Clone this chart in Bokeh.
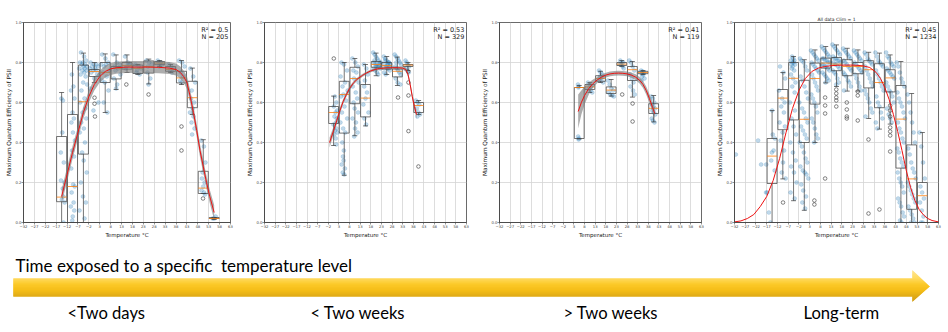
from bokeh.plotting import figure
from bokeh.layouts import row, column
from bokeh.models import Range1d, FixedTicker, Label, NumeralTickFormatter
from bokeh.embed import file_html
from bokeh.resources import INLINE
from bokeh.core.properties import value

# ---------------- data ----------------
X_TICKS = [-32, -27, -22, -17, -12, -7, -2, 3, 8, 13, 18, 23, 28, 33, 38, 43, 48, 53, 58, 63]
Y_TICKS = [0.0, 0.2, 0.4, 0.6, 0.8, 1.0]
ALL_BINS = [-14.5, -9.5, -4.5, 0.5, 5.5, 10.5, 15.5, 20.5, 25.5, 30.5, 35.5, 40.5, 45.5, 50.5, 55.5]

# Panel 1 : < two days
P1_BINS = ALL_BINS
P1_Q1 = [0.104, 0.0, 0.342, 0.73, 0.70, 0.718, 0.767, 0.745, 0.747, 0.789, 0.756, 0.698, 0.574, 0.145, 0.02]
P1_MED = [0.127, 0.18, 0.604, 0.755, 0.75, 0.77, 0.785, 0.77, 0.78, 0.797, 0.765, 0.723, 0.624, 0.172, 0.02]
P1_Q3 = [0.43, 0.54, 0.787, 0.765, 0.80, 0.78, 0.80, 0.787, 0.808, 0.805, 0.78, 0.756, 0.706, 0.256, 0.025]
P1_LO = [0.0, 0.0, 0.0, 0.70, 0.55, 0.665, 0.75, 0.74, 0.693, 0.78, 0.75, 0.69, 0.54, 0.145, 0.015]
P1_HI = [0.65, 0.80, 0.847, 0.80, 0.843, 0.838, 0.838, 0.79, 0.817, 0.81, 0.79, 0.81, 0.772, 0.414, 0.025]
P1_OUT_T = [0.6, 0.6, 0.8, 15.2, 25.4, 40.5, 40.5, 50.4]
P1_OUT_V = [0.624, 0.594, 0.53, 0.69, 0.64, 0.48, 0.36, 0.12]
P1_PT_T = [
    [-14.6, -13.9, -14.2, -13.5, -14.8, -13.2, -14.0, -13.7, -14.4, -13.1, -14.9, -13.6],
    [-9.8, -9.1, -10.2, -8.6, -9.5, -8.9, -10.0, -9.3, -8.4, -9.7, -8.8, -10.1, -9.2, -8.5, -9.9, -9.0, -10.3, -8.7, -9.4, -9.6],
    [-5.6, -4.2, -3.3, -6.1, -4.8, -3.7, -5.2, -2.9, -4.5, -6.4, -3.9, -5.0, -3.1, -4.1, -5.8, -3.5, -4.6, -2.8, -5.4, -4.0,
     -6.0, -3.6, -4.9, -3.2, -5.5, -4.3, -6.2, -3.8, -5.1, -4.4, -3.0, -5.7, -4.7, -3.4, -6.3, -4.0],
    [-1.2, 0.3, 1.5, -0.5, 2.1, 0.9, -1.6, 0.0, 1.2, -0.9, 1.8, 0.5, -1.4, 2.4, 0.1],
    [4.1, 5.6, 6.9, 3.6, 5.0, 7.4, 4.5, 6.2, 3.9, 5.3, 7.0, 4.8, 6.5, 5.8],
    [9.2, 10.8, 12.1, 9.8, 11.4, 10.2, 12.5, 9.5, 11.0, 10.5],
    [14.6, 15.9, 16.8, 15.2, 14.9, 16.3],
    [19.4, 20.8, 21.9, 20.1, 19.8, 21.3],
    [24.4, 25.7, 26.8, 25.1, 24.9, 26.2, 25.4],
    [29.6, 30.9, 31.7, 30.3, 29.9],
    [34.6, 35.8, 36.7, 35.2, 36.1],
    [39.4, 40.8, 41.9, 40.2, 41.3, 39.9, 40.5],
    [44.6, 45.9, 46.8, 45.2, 44.9, 46.3, 45.6, 44.4, 46.0, 45.1, 46.5, 45.4],
    [49.6, 50.8, 51.5, 50.2, 49.9, 51.1, 50.5, 49.7, 50.9, 51.3],
    [54.8, 55.6, 56.2],
]
P1_PT_V = [
    [0.62, 0.61, 0.45, 0.30, 0.21, 0.20, 0.17, 0.13, 0.115, 0.10, 0.35, 0.0],
    [0.74, 0.68, 0.66, 0.62, 0.55, 0.52, 0.50, 0.45, 0.41, 0.36, 0.33, 0.27, 0.19, 0.18, 0.15, 0.10, 0.08, 0.06, 0.03, 0.01],
    [0.85, 0.83, 0.81, 0.80, 0.80, 0.79, 0.79, 0.78, 0.78, 0.77, 0.77, 0.76, 0.76, 0.75, 0.74, 0.73, 0.70, 0.69, 0.66, 0.62,
     0.60, 0.57, 0.55, 0.52, 0.50, 0.47, 0.45, 0.40, 0.35, 0.31, 0.25, 0.20, 0.13, 0.10, 0.06, 0.02],
    [0.80, 0.79, 0.79, 0.78, 0.78, 0.77, 0.77, 0.76, 0.76, 0.75, 0.74, 0.72, 0.67, 0.60, 0.56],
    [0.84, 0.82, 0.80, 0.79, 0.78, 0.76, 0.75, 0.73, 0.71, 0.70, 0.66, 0.60, 0.55, 0.79],
    [0.84, 0.80, 0.79, 0.78, 0.77, 0.76, 0.74, 0.72, 0.69, 0.67],
    [0.83, 0.80, 0.79, 0.78, 0.77, 0.79],
    [0.79, 0.78, 0.77, 0.76, 0.75, 0.74],
    [0.81, 0.80, 0.79, 0.78, 0.75, 0.72, 0.69],
    [0.81, 0.80, 0.79, 0.78, 0.80],
    [0.79, 0.78, 0.77, 0.76, 0.75],
    [0.81, 0.80, 0.78, 0.75, 0.73, 0.71, 0.70],
    [0.77, 0.73, 0.70, 0.66, 0.62, 0.60, 0.57, 0.55, 0.53, 0.50, 0.47, 0.44],
    [0.41, 0.38, 0.30, 0.25, 0.22, 0.20, 0.18, 0.16, 0.15, 0.14],
    [0.02, 0.02, 0.03],
]
P1_FIT_T = [-14.5, -12, -9.5, -7, -4.5, -2, 0.5, 3, 5.5, 8, 10.5, 15, 20, 25, 30, 35, 38, 40, 41.5, 43, 44.5, 46, 47.5, 49, 50.5, 52, 53.5, 55.5]
P1_FIT_V = [0.13, 0.24, 0.35, 0.45, 0.55, 0.63, 0.69, 0.73, 0.755, 0.768, 0.774, 0.777, 0.777, 0.777, 0.776, 0.772, 0.765, 0.75, 0.73, 0.70, 0.63, 0.55, 0.46, 0.36, 0.28, 0.20, 0.13, 0.05]
P1_FIT_LO = [0.095, 0.205, 0.318, 0.42, 0.52, 0.60, 0.66, 0.70, 0.725, 0.738, 0.744, 0.747, 0.747, 0.747, 0.746, 0.742, 0.735, 0.72, 0.70, 0.668, 0.598, 0.518, 0.428, 0.328, 0.248, 0.168, 0.096, 0.012]
P1_FIT_HI = [0.165, 0.275, 0.382, 0.48, 0.58, 0.66, 0.72, 0.76, 0.785, 0.798, 0.804, 0.807, 0.807, 0.807, 0.806, 0.802, 0.795, 0.78, 0.76, 0.732, 0.662, 0.582, 0.492, 0.392, 0.312, 0.232, 0.164, 0.088]

# Panel 2 : < two weeks
P2_BINS = [0.5, 5.5, 10.5, 15.5, 20.5, 25.5, 30.5, 35.5, 40.5]
P2_Q1 = [0.495, 0.447, 0.594, 0.528, 0.776, 0.767, 0.728, 0.78, 0.55]
P2_MED = [0.55, 0.64, 0.72, 0.622, 0.79, 0.785, 0.756, 0.787, 0.585]
P2_Q3 = [0.58, 0.706, 0.776, 0.69, 0.805, 0.80, 0.767, 0.79, 0.60]
P2_LO = [0.385, 0.236, 0.434, 0.483, 0.734, 0.74, 0.685, 0.76, 0.54]
P2_HI = [0.632, 0.80, 0.82, 0.79, 0.847, 0.83, 0.827, 0.80, 0.61]
P2_OUT_T = [0.6, 30.8, 35.7, 35.7, 35.7, 35.6, 40.4]
P2_OUT_V = [0.82, 0.625, 0.70, 0.635, 0.457, 0.755, 0.28]
P2_PT_T = [
    [1.1, 1.8, 0.6, 2.2, 1.4, 0.9, 2.0, 1.6, 0.4, 1.9, 1.2, 2.3, 0.8, 1.5, 1.7],
    [4.2, 5.4, 6.8, 3.8, 5.9, 4.7, 7.1, 5.1, 4.0, 6.3, 5.6, 4.4, 6.9, 3.7, 5.0, 6.0, 4.6, 5.3, 4.9, 5.2, 4.3, 5.8, 4.8, 5.5],
    [9.3, 10.7, 11.9, 9.8, 11.2, 10.1, 12.3, 9.5, 10.9, 11.6, 9.9, 10.4, 12.0, 9.4, 11.0, 10.6, 11.8, 10.2],
    [14.7, 15.9, 16.6, 15.2, 14.9, 16.2, 15.5, 14.5, 16.9, 15.0, 15.8],
    [19.1, 19.8, 20.4, 21.0, 21.6, 22.2, 19.5, 20.1, 20.7, 21.3, 21.9, 22.5, 19.3, 20.0, 20.9, 21.5, 22.0, 22.7, 19.7, 20.5],
    [24.1, 24.8, 25.4, 26.0, 26.6, 27.2, 24.5, 25.1, 25.7, 26.3, 26.9, 24.3, 25.0, 25.9, 26.5, 27.0, 24.7, 25.5],
    [29.2, 29.9, 30.5, 31.1, 31.7, 32.2, 29.5, 30.2, 30.8, 31.4, 32.0, 29.7, 30.6, 31.9, 30.0],
    [34.3, 34.9, 35.4, 36.0, 34.6, 35.2, 35.8],
    [39.2, 40.0, 40.8, 39.6, 40.4, 41.1, 39.9],
]
P2_PT_V = [
    [0.63, 0.60, 0.58, 0.56, 0.55, 0.53, 0.52, 0.50, 0.49, 0.47, 0.46, 0.45, 0.44, 0.42, 0.39],
    [0.80, 0.79, 0.76, 0.73, 0.70, 0.68, 0.66, 0.64, 0.63, 0.61, 0.58, 0.55, 0.52, 0.50, 0.47, 0.45, 0.40, 0.36, 0.33, 0.31, 0.29, 0.27, 0.25, 0.24],
    [0.82, 0.80, 0.78, 0.76, 0.75, 0.72, 0.70, 0.68, 0.65, 0.62, 0.60, 0.57, 0.55, 0.52, 0.50, 0.47, 0.45, 0.43],
    [0.79, 0.77, 0.74, 0.71, 0.68, 0.65, 0.62, 0.59, 0.55, 0.52, 0.49],
    [0.85, 0.84, 0.83, 0.82, 0.81, 0.80, 0.80, 0.79, 0.79, 0.78, 0.78, 0.77, 0.77, 0.76, 0.75, 0.74, 0.79, 0.80, 0.81, 0.78],
    [0.83, 0.82, 0.81, 0.80, 0.80, 0.79, 0.79, 0.78, 0.78, 0.77, 0.76, 0.75, 0.74, 0.79, 0.80, 0.78, 0.81, 0.77],
    [0.84, 0.83, 0.82, 0.81, 0.80, 0.79, 0.78, 0.77, 0.76, 0.75, 0.74, 0.72, 0.70, 0.69, 0.80],
    [0.81, 0.80, 0.79, 0.78, 0.77, 0.76, 0.75],
    [0.61, 0.60, 0.59, 0.57, 0.55, 0.54, 0.53],
]
P2_FIT_T = [-1.4, 0.5, 2, 3.5, 5, 6.5, 8, 10, 12, 14, 16, 18, 20, 22, 25, 28, 31, 33, 34.5, 35.5, 36.5, 37.5, 38.5, 39.5]
P2_FIT_V = [0.40, 0.46, 0.51, 0.56, 0.605, 0.64, 0.67, 0.70, 0.72, 0.735, 0.748, 0.758, 0.765, 0.77, 0.773, 0.774, 0.774, 0.772, 0.765, 0.74, 0.69, 0.63, 0.58, 0.54]
P2_FIT_LO = [0.375, 0.44, 0.493, 0.545, 0.592, 0.628, 0.66, 0.691, 0.712, 0.728, 0.741, 0.751, 0.758, 0.763, 0.766, 0.767, 0.767, 0.764, 0.755, 0.728, 0.676, 0.614, 0.562, 0.518]
P2_FIT_HI = [0.425, 0.48, 0.527, 0.575, 0.618, 0.652, 0.68, 0.709, 0.728, 0.742, 0.755, 0.765, 0.772, 0.777, 0.780, 0.781, 0.781, 0.780, 0.775, 0.752, 0.704, 0.646, 0.598, 0.562]

# Panel 3 : > two weeks
P3_BINS = [5.5, 10.5, 15.5, 20.5, 25.5, 30.5, 35.5, 40.5]
P3_Q1 = [0.42, 0.665, 0.706, 0.645, 0.785, 0.71, 0.744, 0.545]
P3_MED = [0.675, 0.678, 0.72, 0.662, 0.792, 0.764, 0.75, 0.571]
P3_Q3 = [0.675, 0.69, 0.734, 0.678, 0.80, 0.78, 0.756, 0.594]
P3_LO = [0.418, 0.65, 0.70, 0.632, 0.78, 0.627, 0.74, 0.503]
P3_HI = [0.685, 0.70, 0.756, 0.715, 0.81, 0.805, 0.76, 0.635]
P3_OUT_T = [25.7, 30.6, 30.6]
P3_OUT_V = [0.64, 0.595, 0.505]
P3_PT_T = [
    [4.9, 5.3, 5.1, 5.0, 5.4, 5.2],
    [9.6, 10.4, 11.2, 10.0, 10.8, 11.6],
    [14.8, 15.6, 16.4, 15.2, 16.0, 15.0, 16.7],
    [19.0, 19.8, 20.6, 21.4, 19.4, 20.2, 21.0, 21.8],
    [24.8, 25.5, 26.2, 24.6, 25.2, 25.9, 26.4],
    [29.0, 29.8, 30.6, 31.4, 29.4, 30.2, 31.0, 29.6, 30.8, 31.6],
    [34.6, 35.3, 36.0, 34.9, 35.6, 35.1, 36.2, 34.8],
    [39.4, 40.1, 40.8, 39.7, 40.4, 41.1, 39.9, 40.6, 41.3, 39.6, 40.2, 40.9],
]
P3_PT_V = [
    [0.69, 0.68, 0.675, 0.43, 0.42, 0.415],
    [0.70, 0.69, 0.68, 0.67, 0.66, 0.65],
    [0.76, 0.75, 0.74, 0.73, 0.72, 0.71, 0.70],
    [0.71, 0.69, 0.67, 0.66, 0.65, 0.64, 0.635, 0.63],
    [0.81, 0.80, 0.80, 0.79, 0.79, 0.78, 0.77],
    [0.81, 0.80, 0.78, 0.76, 0.74, 0.72, 0.70, 0.68, 0.66, 0.64],
    [0.76, 0.755, 0.75, 0.745, 0.74, 0.73, 0.72, 0.71],
    [0.63, 0.62, 0.60, 0.59, 0.58, 0.57, 0.56, 0.55, 0.54, 0.52, 0.51, 0.50],
]
P3_FIT_T = [5, 6.5, 8, 10, 12, 14, 16, 18, 20, 22, 24, 26, 28, 30, 32, 34, 35.5, 37, 38.5, 40, 41]
P3_FIT_V = [0.555, 0.60, 0.635, 0.67, 0.695, 0.713, 0.727, 0.737, 0.743, 0.746, 0.747, 0.746, 0.743, 0.737, 0.727, 0.71, 0.69, 0.66, 0.62, 0.575, 0.545]
P3_FIT_LO = [0.47, 0.54, 0.59, 0.64, 0.675, 0.698, 0.714, 0.725, 0.731, 0.734, 0.735, 0.734, 0.731, 0.724, 0.713, 0.694, 0.672, 0.640, 0.598, 0.550, 0.515]
P3_FIT_HI = [0.64, 0.66, 0.68, 0.70, 0.715, 0.728, 0.740, 0.749, 0.755, 0.758, 0.759, 0.758, 0.755, 0.750, 0.741, 0.726, 0.708, 0.680, 0.642, 0.600, 0.575]

# Panel 4 : long-term (all data)
P4_BINS = ALL_BINS
P4_Q1 = [0.195, 0.464, 0.513, 0.40, 0.592, 0.772, 0.759, 0.734, 0.744, 0.673, 0.574, 0.653, 0.272, 0.066, 0.0]
P4_MED = [0.332, 0.622, 0.721, 0.516, 0.72, 0.797, 0.792, 0.78, 0.78, 0.764, 0.70, 0.723, 0.517, 0.218, 0.134]
P4_Q3 = [0.42, 0.665, 0.80, 0.711, 0.797, 0.822, 0.825, 0.814, 0.80, 0.809, 0.794, 0.764, 0.685, 0.388, 0.20]
P4_LO = [0.0, 0.218, 0.109, 0.061, 0.40, 0.698, 0.68, 0.657, 0.657, 0.52, 0.467, 0.492, 0.0, 0.0, 0.0]
P4_HI = [0.56, 0.75, 0.83, 0.814, 0.863, 0.88, 0.888, 0.871, 0.863, 0.851, 0.847, 0.838, 0.805, 0.645, 0.45]
P4_OUT_T = [-9.4, 5.2, 5.2, 10.2, 10.2, 10.2, 10.2, 15.4, 15.4, 15.4, 15.4, 15.4, 20.3, 20.3, 20.3, 20.3,
            25.4, 25.4, 25.4, 30.4, 30.4, 35.5, 40.5, 40.5, 40.5, 40.5, 40.5, 40.5, 40.5]
P4_OUT_V = [0.10, 0.11, 0.09, 0.625, 0.585, 0.545, 0.22, 0.665, 0.645, 0.625, 0.61, 0.58, 0.60, 0.565, 0.53, 0.52,
            0.655, 0.635, 0.51, 0.415, 0.045, 0.065, 0.585, 0.56, 0.53, 0.475, 0.455, 0.435, 0.355]
P4_PT_T = [
    [-31.4, -21.0, -19.6, -17.2, -14.6, -17.3, -16.0, -13.2, -14.2, -13.8, -14.9, -13.3, -15.3, -14.5, -16.8],
    [-10.8, -9.2, -8.4, -11.3, -9.8, -8.7, -10.2, -9.0, -11.0, -8.5, -9.6, -10.5, -8.9, -9.4, -10.0, -8.2],
    [-5.2, -4.6, -5.8, -4.1, -5.0, -4.4, -5.5, -3.8, -4.9, -5.3, -4.2, -5.7, -4.7, -3.6, -5.1, -4.0, -6.2, -3.9, -5.4, -4.5,
     -3.3, -6.0, -4.8, -3.5, -5.6, -4.3, -3.1, -5.9, -4.0],
    [-1.5, -0.8, 0.2, 1.0, 1.8, -1.2, -0.3, 0.6, 1.4, 2.2, -1.8, -0.5, 0.4, 1.2, 2.0, -1.0, -0.1, 0.8, 1.6, -1.6,
     -0.6, 0.3, 1.1, 1.9, -1.3, -0.2, 0.7, 1.5, 2.4, -0.9, 0.0, 1.3, -0.4, 0.9],
    [3.6, 4.3, 5.0, 5.7, 6.4, 7.1, 3.9, 4.6, 5.3, 6.0, 6.7, 7.4, 4.1, 4.8, 5.5, 6.2, 6.9, 3.8, 4.5, 5.2,
     5.9, 6.6, 4.0, 4.7, 5.4, 6.1, 6.8, 5.1],
    [8.6, 9.3, 10.0, 10.7, 11.4, 12.1, 8.9, 9.6, 10.3, 11.0, 11.7, 12.4, 8.7, 9.4, 10.1, 10.8, 11.5, 12.2, 9.0, 9.8,
     10.5, 11.2, 11.9, 10.4],
    [13.6, 14.3, 15.0, 15.7, 16.4, 17.1, 13.9, 14.6, 15.3, 16.0, 16.7, 17.4, 14.1, 14.8, 15.5, 16.2, 16.9, 13.8, 14.5, 15.2,
     15.9, 16.6, 15.4],
    [18.6, 19.3, 20.0, 20.7, 21.4, 22.1, 18.9, 19.6, 20.3, 21.0, 21.7, 22.4, 18.7, 19.4, 20.1, 20.8, 21.5, 22.2, 19.0],
    [23.6, 24.3, 25.0, 25.7, 26.4, 27.1, 23.9, 24.6, 25.3, 26.0, 26.7, 27.4, 24.1, 24.8, 25.5, 26.2, 26.9],
    [28.6, 29.3, 30.0, 30.7, 31.4, 32.1, 28.9, 29.6, 30.3, 31.0, 31.7, 32.4, 28.7, 29.4, 30.1, 30.8, 31.5, 32.2, 29.0],
    [33.6, 34.3, 35.0, 35.7, 36.4, 37.1, 33.9, 34.6, 35.3, 36.0, 36.7, 37.4, 34.1, 34.8, 35.5, 36.2, 36.9, 33.8, 34.5],
    [38.6, 39.3, 40.0, 40.7, 41.4, 42.1, 38.9, 39.6, 40.3, 41.0, 41.7, 42.4, 38.7, 39.4, 40.1, 40.8, 41.5, 42.2, 39.0, 39.8,
     40.5, 41.2],
    [43.6, 44.3, 45.0, 45.7, 46.4, 47.1, 43.9, 44.6, 45.3, 46.0, 46.7, 47.4, 44.1, 44.8, 45.5, 46.2, 46.9, 43.8, 44.5, 45.2,
     45.9, 46.6, 44.0, 44.7, 45.4, 46.1, 46.8, 44.2, 44.9, 45.6, 46.3, 47.0, 45.1, 45.8],
    [48.6, 49.3, 50.0, 50.7, 51.4, 52.1, 48.9, 49.6, 50.3, 51.0, 51.7, 52.4, 48.7, 49.4, 50.1, 50.8, 51.5, 52.2, 49.0, 49.8,
     50.5, 51.2, 50.2, 51.8],
    [54.2, 55.0, 55.8, 56.6, 54.6, 55.4, 56.2, 54.4, 55.2, 56.0, 54.8, 55.6],
]
P4_PT_V = [
    [0.34, 0.41, 0.29, 0.29, 0.35, 0.15, 0.05, 0.42, 0.44, 0.36, 0.31, 0.26, 0.0, 0.56, 0.15],
    [0.78, 0.75, 0.72, 0.66, 0.62, 0.60, 0.58, 0.55, 0.50, 0.48, 0.45, 0.41, 0.36, 0.30, 0.25, 0.22],
    [0.83, 0.82, 0.81, 0.81, 0.80, 0.80, 0.79, 0.79, 0.78, 0.77, 0.76, 0.74, 0.72, 0.70, 0.68, 0.65, 0.60, 0.56, 0.52, 0.48,
     0.44, 0.40, 0.35, 0.31, 0.28, 0.25, 0.20, 0.15, 0.12],
    [0.82, 0.81, 0.80, 0.78, 0.76, 0.73, 0.71, 0.68, 0.65, 0.62, 0.60, 0.57, 0.55, 0.52, 0.50, 0.48, 0.46, 0.44, 0.42, 0.40,
     0.38, 0.35, 0.32, 0.30, 0.28, 0.26, 0.25, 0.24, 0.22, 0.19, 0.16, 0.13, 0.10, 0.07],
    [0.86, 0.85, 0.84, 0.83, 0.82, 0.81, 0.80, 0.79, 0.78, 0.77, 0.76, 0.75, 0.74, 0.72, 0.70, 0.68, 0.66, 0.64, 0.62, 0.60,
     0.58, 0.55, 0.52, 0.50, 0.47, 0.44, 0.42, 0.40],
    [0.88, 0.87, 0.86, 0.85, 0.84, 0.83, 0.82, 0.82, 0.81, 0.81, 0.80, 0.80, 0.79, 0.79, 0.78, 0.78, 0.77, 0.76, 0.75, 0.74,
     0.73, 0.72, 0.71, 0.70],
    [0.89, 0.88, 0.87, 0.86, 0.85, 0.84, 0.83, 0.82, 0.82, 0.81, 0.81, 0.80, 0.80, 0.79, 0.79, 0.78, 0.77, 0.76, 0.75, 0.74,
     0.72, 0.70, 0.69],
    [0.87, 0.86, 0.85, 0.84, 0.83, 0.82, 0.81, 0.80, 0.79, 0.78, 0.77, 0.76, 0.75, 0.74, 0.73, 0.71, 0.70, 0.68, 0.66],
    [0.86, 0.85, 0.84, 0.83, 0.82, 0.81, 0.80, 0.79, 0.78, 0.77, 0.76, 0.75, 0.74, 0.72, 0.70, 0.68, 0.66],
    [0.85, 0.84, 0.82, 0.81, 0.80, 0.79, 0.78, 0.76, 0.74, 0.72, 0.70, 0.68, 0.66, 0.64, 0.62, 0.60, 0.57, 0.55, 0.53],
    [0.85, 0.83, 0.81, 0.80, 0.79, 0.78, 0.76, 0.74, 0.72, 0.70, 0.68, 0.66, 0.63, 0.60, 0.58, 0.55, 0.52, 0.50, 0.47],
    [0.85, 0.83, 0.82, 0.80, 0.79, 0.78, 0.77, 0.76, 0.75, 0.74, 0.73, 0.72, 0.70, 0.68, 0.66, 0.65, 0.63, 0.60, 0.57, 0.54,
     0.52, 0.50],
    [0.80, 0.78, 0.75, 0.72, 0.70, 0.68, 0.65, 0.62, 0.60, 0.58, 0.55, 0.52, 0.50, 0.47, 0.45, 0.42, 0.40, 0.37, 0.35, 0.32,
     0.30, 0.28, 0.25, 0.22, 0.20, 0.18, 0.15, 0.12, 0.10, 0.08, 0.05, 0.03, 0.01, 0.0],
    [0.64, 0.60, 0.55, 0.50, 0.45, 0.40, 0.37, 0.34, 0.30, 0.27, 0.25, 0.22, 0.20, 0.18, 0.16, 0.14, 0.12, 0.10, 0.08, 0.06,
     0.04, 0.02, 0.0, 0.0],
    [0.45, 0.38, 0.30, 0.22, 0.18, 0.15, 0.12, 0.10, 0.06, 0.03, 0.0, 0.0],
]
P4_FIT_T = [-32, -29, -26, -23, -20, -17, -14, -11, -8, -5, -2, 1, 4, 7, 10, 13, 16, 19, 22, 25, 28, 31, 34, 36, 38, 40, 42,
            44, 46, 48, 50, 52, 54, 56, 58, 60, 63]
P4_FIT_V = [0.003, 0.008, 0.02, 0.04, 0.08, 0.13, 0.21, 0.32, 0.45, 0.57, 0.66, 0.72, 0.755, 0.772, 0.78, 0.784, 0.786, 0.787,
            0.787, 0.786, 0.783, 0.775, 0.75, 0.72, 0.675, 0.615, 0.54, 0.455, 0.36, 0.26, 0.175, 0.11, 0.065, 0.038, 0.02,
            0.01, 0.003]

R2_TEXT = ["R\u00b2 = 0.5", "R\u00b2 = 0.53", "R\u00b2 = 0.41", "R\u00b2 = 0.45"]
N_TEXT = ["N = 205", "N = 329", "N = 119", "N = 1234"]
PANEL_TITLES = ["", "", "", "All data Clim = 1"]
X_LABEL = "Temperature \u00b0C"
Y_LABEL = "Maximum Quantum Efficiency of PSII"

HEADER = "Time exposed to a specific\u00a0 temperature level"
STAGES = ["<Two days", "< Two weeks", "> Two weeks", "Long-term"]

# ---------------- styling constants ----------------
FONT = "DejaVu Sans"
BOX_W = 4.6
PT_COLOR = "#1f77b4"
EDGE = "#3a3a3a"


def panel(bins, q1, med, q3, lo, hi, out_t, out_v, pt_t, pt_v, fit_t, fit_v, fit_lo, fit_hi,
          r2, n, title, bl, br):
    p = figure(width=bl + 207 + br, height=240, x_range=Range1d(-32, 63), y_range=Range1d(0, 1),
               output_backend="svg", toolbar_location=None,
               min_border_left=bl, min_border_right=br, min_border_top=22, min_border_bottom=16)
    p.background_fill_color = "white"
    p.border_fill_color = "white"
    p.outline_line_color = "#444444"
    p.outline_line_width = 0.8
    p.xaxis.ticker = FixedTicker(ticks=X_TICKS)
    p.yaxis.ticker = FixedTicker(ticks=Y_TICKS)
    p.yaxis.formatter = NumeralTickFormatter(format="0.0")
    for ax in (p.xaxis[0], p.yaxis[0]):
        ax.axis_line_color = "#444444"
        ax.axis_line_width = 0.8
        ax.major_tick_line_color = "#444444"
        ax.major_tick_line_width = 0.6
        ax.major_tick_out = 2
        ax.major_tick_in = 0
        ax.minor_tick_line_color = None
        ax.major_label_text_font = FONT
        ax.major_label_text_font_size = "3.8px"
        ax.major_label_text_color = "#444444"
        ax.major_label_standoff = 0
        ax.axis_label_text_font = FONT
        ax.axis_label_text_font_style = "normal"
        ax.axis_label_text_color = "#222222"
        ax.axis_label_standoff = 1
    p.xaxis.axis_label = X_LABEL
    p.xaxis.axis_label_text_font_size = "5.5px"
    p.yaxis.axis_label = Y_LABEL
    p.yaxis.axis_label_text_font_size = "5.8px"
    p.yaxis.axis_label_standoff = 0
    p.xgrid.ticker = FixedTicker(ticks=X_TICKS)
    p.ygrid.ticker = FixedTicker(ticks=Y_TICKS)
    p.grid.grid_line_color = "#d4d4d4"
    p.grid.grid_line_width = 0.8
    if title:
        p.title.text = title
        p.title.text_font = FONT
        p.title.text_font_size = "4.5px"
        p.title.text_font_style = "normal"
        p.title.align = "center"
        p.title.standoff = 2
        p.title.text_color = "#222222"

    xs, ys = [], []
    for tt, vv in zip(pt_t, pt_v):
        for a, b in zip(tt, vv):
            xs.append(a)
            ys.append(b)
    p.scatter(xs, ys, size=4, fill_color=PT_COLOR, fill_alpha=0.28, line_color=PT_COLOR, line_alpha=0.3,
              line_width=0.5)

    left = [b - BOX_W / 2 for b in bins]
    right = [b + BOX_W / 2 for b in bins]
    cl = [b - BOX_W / 4 for b in bins]
    cr = [b + BOX_W / 4 for b in bins]
    p.segment(bins, q3, bins, hi, line_color=EDGE, line_width=0.7)
    p.segment(bins, q1, bins, lo, line_color=EDGE, line_width=0.7)
    p.segment(cl, hi, cr, hi, line_color=EDGE, line_width=0.7)
    p.segment(cl, lo, cr, lo, line_color=EDGE, line_width=0.7)
    p.quad(left=left, right=right, bottom=q1, top=q3, fill_color=None, line_color=EDGE, line_width=0.7)
    p.segment(left, med, right, med, line_color="#ff7f0e", line_width=0.8)
    p.scatter(out_t, out_v, size=3.6, fill_color=None, line_color="#333333", line_width=0.6)

    if fit_lo is not None:
        p.varea(x=fit_t, y1=fit_lo, y2=fit_hi, fill_color="#7a7a7a", fill_alpha=0.62)
    p.line(fit_t, fit_v, line_color="#ee1111", line_width=1.0)

    p.add_layout(Label(x=62, y=0.982, text=r2, text_align="right", text_baseline="top",
                       text_font=FONT, text_font_size="6.5px", text_color="#222222"))
    p.add_layout(Label(x=62, y=0.948, text=n, text_align="right", text_baseline="top",
                       text_font=FONT, text_font_size="6.5px", text_color="#222222"))
    return p


p1 = panel(P1_BINS, P1_Q1, P1_MED, P1_Q3, P1_LO, P1_HI, P1_OUT_T, P1_OUT_V, P1_PT_T, P1_PT_V,
           P1_FIT_T, P1_FIT_V, P1_FIT_LO, P1_FIT_HI, R2_TEXT[0], N_TEXT[0], PANEL_TITLES[0], 23, 14)
p2 = panel(P2_BINS, P2_Q1, P2_MED, P2_Q3, P2_LO, P2_HI, P2_OUT_T, P2_OUT_V, P2_PT_T, P2_PT_V,
           P2_FIT_T, P2_FIT_V, P2_FIT_LO, P2_FIT_HI, R2_TEXT[1], N_TEXT[1], PANEL_TITLES[1], 15, 13)
p3 = panel(P3_BINS, P3_Q1, P3_MED, P3_Q3, P3_LO, P3_HI, P3_OUT_T, P3_OUT_V, P3_PT_T, P3_PT_V,
           P3_FIT_T, P3_FIT_V, P3_FIT_LO, P3_FIT_HI, R2_TEXT[2], N_TEXT[2], PANEL_TITLES[2], 15, 13)
p4 = panel(P4_BINS, P4_Q1, P4_MED, P4_Q3, P4_LO, P4_HI, P4_OUT_T, P4_OUT_V, P4_PT_T, P4_PT_V,
           P4_FIT_T, P4_FIT_V, None, None, R2_TEXT[3], N_TEXT[3], PANEL_TITLES[3], 17, 6)

# ---------------- bottom: time-exposure arrow ----------------
fb = figure(width=946, height=90, x_range=Range1d(0, 946), y_range=Range1d(330, 240),
            output_backend="svg", toolbar_location=None, min_border=0,
            x_axis_location=None, y_axis_location=None)
fb.grid.visible = False
fb.outline_line_color = None
fb.background_fill_color = "white"
fb.border_fill_color = "white"

BODY_X0, BODY_X1, BODY_Y0, BODY_Y1 = 13, 912, 278, 296
HEAD_Y0, HEAD_Y1, TIP_X, TIP_Y = 270, 301, 929, 286
STOPS = [(270, (255, 227, 138)), (278, (255, 215, 80)), (284, (252, 196, 20)),
         (290, (244, 183, 0)), (296, (220, 162, 0)), (301, (205, 150, 0))]


def grad(y):
    for (y0, c0), (y1, c1) in zip(STOPS[:-1], STOPS[1:]):
        if y0 <= y <= y1:
            t = (y - y0) / (y1 - y0)
            return "#%02x%02x%02x" % tuple(int(round(a + (b - a) * t)) for a, b in zip(c0, c1))
    return "#%02x%02x%02x" % STOPS[-1][1]


def head_x(y):
    if y <= TIP_Y:
        return BODY_X1 + (TIP_X - BODY_X1) * (y - HEAD_Y0) / (TIP_Y - HEAD_Y0)
    return BODY_X1 + (TIP_X - BODY_X1) * (HEAD_Y1 - y) / (HEAD_Y1 - TIP_Y)


pxs, pys, pcs = [], [], []
for ya in range(HEAD_Y0, HEAD_Y1):
    yb = ya + 1
    xl = BODY_X0 if (ya >= BODY_Y0 and yb <= BODY_Y1) else BODY_X1
    pxs.append([xl, head_x(ya), head_x(yb), xl])
    pys.append([ya, ya, yb, yb])
    pcs.append(grad(ya + 0.5))
fb.patches(pxs, pys, fill_color=pcs, line_color=pcs, line_width=0.4)

fb.text(x=[15], y=[265], text=[HEADER], text_font=value("Lato"), text_font_size="17px",
        text_align="left", text_baseline="alphabetic", text_color="#000000")
fb.text(x=[67, 310, 563, 803], y=[312, 312, 312, 312], text=STAGES, text_font=value("Lato"),
        text_font_size="16.6px", text_align="left", text_baseline="alphabetic", text_color="#000000")

layout = column(row(p1, p2, p3, p4), fb)
open("out.html", "w").write(file_html(layout, INLINE))
